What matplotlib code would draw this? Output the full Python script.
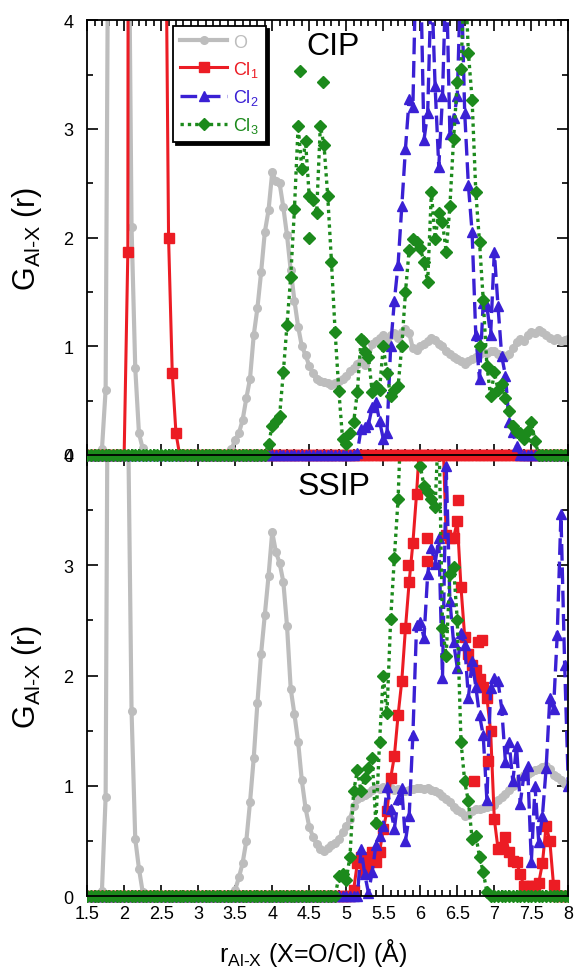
import numpy as np
import matplotlib
matplotlib.use('Agg')
import matplotlib.pyplot as plt
from matplotlib.patches import Rectangle
from matplotlib.ticker import MultipleLocator, FormatStrFormatter

plt.rcParams['font.family'] = ['Liberation Sans', 'DejaVu Sans']
plt.rcParams['mathtext.fontset'] = 'custom'
plt.rcParams['mathtext.rm'] = 'Liberation Sans'
plt.rcParams['mathtext.it'] = 'Liberation Sans:italic'

# r grid (A), 0.05 steps from 1.5 to 8.0
r = np.round(np.arange(1.5, 8.001, 0.05), 2)

# ---------------- CIP ----------------
cip_O = [
    0, 0, 0, 0, 0.05, 0.6, 7, 15, 20, 18,                       # 1.5
    12, 6, 2.1, 0.8, 0.2, 0.06, 0, 0, 0, 0,                     # 2.0
    0, 0, 0, 0, 0, 0, 0, 0, 0, 0,                               # 2.5
    0, 0, 0, 0, 0, 0, 0, 0, 0, 0.05,                            # 3.0
    0.14, 0.2, 0.32, 0.52, 0.7, 1.1, 1.35, 1.68, 2.05, 2.25,    # 3.5
    2.6, 2.52, 2.5, 2.28, 2.02, 1.7, 1.42, 1.18, 1.0, 0.92,     # 4.0
    0.82, 0.75, 0.7, 0.68, 0.67, 0.66, 0.64, 0.66, 0.68, 0.7,   # 4.5
    0.73, 0.77, 0.8, 0.84, 0.86, 0.83, 0.9, 1.02, 1.05, 1.08,   # 5.0
    1.1, 1.06, 1.1, 1.12, 1.08, 1.13, 1.16, 1.12, 0.98, 0.97,   # 5.5
    1.0, 1.02, 1.05, 1.08, 1.06, 1.02, 1.0, 0.96, 0.93, 0.9,    # 6.0
    0.88, 0.86, 0.84, 0.86, 0.88, 0.9, 0.93, 0.95, 0.94, 0.96,  # 6.5
    0.96, 0.93, 0.92, 0.9, 0.93, 0.98, 1.04, 1.07, 1.05, 1.1,   # 7.0
    1.13, 1.12, 1.15, 1.13, 1.1, 1.08, 1.06, 1.08, 1.05, 1.06,  # 7.5
    1.07]
cip_Cl1 = [
    0, 0, 0, 0, 0, 0, 0, 0, 0, 0,                               # 1.5
    0, 1.87, 40, 60, 70, 70, 65, 55, 45, 30,                    # 2.0
    20, 6, 2.0, 0.75, 0.2, 0, 0, 0, 0, 0,                       # 2.5
    0, 0, 0, 0, 0, 0, 0, 0, 0, 0,                               # 3.0
    0, 0, 0, 0, 0, 0, 0, 0, 0, 0,                               # 3.5
    0, 0, 0, 0, 0, 0, 0, 0, 0, 0,                               # 4.0
    0, 0, 0, 0, 0, 0, 0, 0, 0, 0,                               # 4.5
    0, 0, 0, 0, 0, 0, 0, 0, 0, 0,                               # 5.0
    0, 0, 0, 0, 0, 0, 0, 0, 0, 0,                               # 5.5
    0, 0, 0, 0, 0, 0, 0, 0, 0, 0,                               # 6.0
    0, 0, 0, 0, 0, 0, 0, 0, 0, 0,                               # 6.5
    0, 0, 0, 0, 0, 0, 0, 0, 0, 0,                               # 7.0
    0, 0, 0, 0, 0, 0, 0, 0, 0, 0,                               # 7.5
    0]
cip_Cl2 = [
    0, 0, 0, 0, 0, 0, 0, 0, 0, 0,                               # 1.5
    0, 0, 0, 0, 0, 0, 0, 0, 0, 0,                               # 2.0
    0, 0, 0, 0, 0, 0, 0, 0, 0, 0,                               # 2.5
    0, 0, 0, 0, 0, 0, 0, 0, 0, 0,                               # 3.0
    0, 0, 0, 0, 0, 0, 0, 0, 0, 0,                               # 3.5
    0, 0, 0, 0, 0, 0, 0, 0, 0, 0,                               # 4.0
    0, 0, 0, 0, 0, 0, 0, 0, 0, 0,                               # 4.5
    0, 0, 0, 0.02, 0.24, 0.26, 0.28, 0.44, 0.49, 0.31,          # 5.0
    0.15, 0.2, 1.0, 1.42, 1.75, 2.29, 2.82, 3.28, 3.2, 4.8,     # 5.5
    4.6, 2.9, 3.15, 4.4, 3.4, 2.65, 3.3, 4.5, 2.95, 3.1,        # 6.0
    3.3, 4.5, 3.15, 2.48, 2.05, 1.1, 0.7, 1.4, 1.37, 1.1,       # 6.5
    1.87, 1.37, 0.91, 0.73, 0.3, 0.21, 0.08, 0, 0, 0,           # 7.0
    0, 0, 0, 0, 0, 0, 0, 0, 0, 0,                               # 7.5
    0]
cip_Cl3 = [
    0, 0, 0, 0, 0, 0, 0, 0, 0, 0,                               # 1.5
    0, 0, 0, 0, 0, 0, 0, 0, 0, 0,                               # 2.0
    0, 0, 0, 0, 0, 0, 0, 0, 0, 0,                               # 2.5
    0, 0, 0, 0, 0, 0, 0, 0, 0, 0,                               # 3.0
    0, 0, 0, 0, 0, 0, 0, 0, 0, 0.1,                             # 3.5
    0.27, 0.31, 0.36, 0.76, 1.2, 1.64, 2.26, 3.03, 2.63, 2.89,  # 4.0
    2.38, 2.35, 2.23, 3.03, 2.85, 2.38, 1.78, 1.13, 0.59, 0.15, # 4.5
    0.1, 0.2, 0.3, 0.58, 1.07, 0.95, 0.9, 0.58, 0.63, 0.6,      # 5.0
    1.0, 0.75, 0.54, 0.6, 0.63, 1.0, 1.5, 1.89, 1.99, 1.96,     # 5.5
    1.9, 1.78, 1.59, 2.42, 1.99, 2.23, 2.14, 1.87, 2.29, 2.91,  # 6.0
    3.43, 3.55, 4.5, 3.7, 3.27, 2.42, 1.96, 1.43, 0.82, 0.54,   # 6.5
    0.76, 0.6, 0.65, 0.52, 0.4, 0.27, 0.21, 0.2, 0.15, 0.22,    # 7.0
    0.3, 0.13, 0, 0, 0, 0, 0, 0, 0, 0,                          # 7.5
    0]
# loose Cl3 points off the dotted line
cip_Cl3_x = [4.38, 4.69, 4.5, 6.81, 5.23]
cip_Cl3_y = [3.53, 3.43, 2.0, 1.0, 1.05]

# ---------------- SSIP ----------------
ssip_O = [
    0, 0, 0, 0, 0.05, 0.9, 8, 15, 18, 15,                       # 1.5
    10, 4.5, 1.68, 0.52, 0.25, 0.04, 0, 0, 0, 0,                # 2.0
    0, 0, 0, 0, 0, 0, 0, 0, 0, 0,                               # 2.5
    0, 0, 0, 0, 0, 0, 0, 0, 0, 0.02,                            # 3.0
    0.06, 0.17, 0.3, 0.5, 0.85, 1.25, 1.75, 2.2, 2.55, 2.9,     # 3.5
    3.3, 3.12, 3.02, 2.85, 2.45, 1.88, 1.65, 1.4, 1.05, 0.8,    # 4.0
    0.63, 0.54, 0.47, 0.43, 0.41, 0.44, 0.46, 0.48, 0.52, 0.58, # 4.5
    0.64, 0.7, 0.82, 0.88, 0.9, 0.92, 0.94, 0.96, 0.98, 0.97,   # 5.0
    0.99, 0.97, 0.98, 0.96, 0.97, 0.95, 0.95, 0.96, 0.97, 0.98, # 5.5
    0.98, 0.97, 0.98, 0.96, 0.95, 0.94, 0.91, 0.88, 0.85, 0.81, # 6.0
    0.78, 0.76, 0.73, 0.74, 0.77, 0.79, 0.79, 0.8, 0.81, 0.82,  # 6.5
    0.83, 0.87, 0.9, 0.93, 0.96, 1.0, 1.04, 1.07, 1.1, 1.11,    # 7.0
    1.13, 1.14, 1.15, 1.17, 1.18, 1.15, 1.1, 1.08, 1.05, 1.02,  # 7.5
    1.0]
ssip_Cl1 = [
    0, 0, 0, 0, 0, 0, 0, 0, 0, 0,                               # 1.5
    0, 0, 0, 0, 0, 0, 0, 0, 0, 0,                               # 2.0
    0, 0, 0, 0, 0, 0, 0, 0, 0, 0,                               # 2.5
    0, 0, 0, 0, 0, 0, 0, 0, 0, 0,                               # 3.0
    0, 0, 0, 0, 0, 0, 0, 0, 0, 0,                               # 3.5
    0, 0, 0, 0, 0, 0, 0, 0, 0, 0,                               # 4.0
    0, 0, 0, 0, 0, 0, 0, 0, 0, 0,                               # 4.5
    0, 0, 0.06, 0.3, 0.36, 0.22, 0.31, 0.4, 0.31, 0.4,          # 5.0
    0.61, 0.77, 1.07, 1.27, 1.64, 1.95, 2.43, 2.85, 3.2, 3.65,  # 5.5
    4.2, 4.5, 4.4, 4.6, 4.5, 4.5, 4.3, 3.27, 3.25, 3.25,        # 6.0
    3.4, 2.8, 2.35, 2.2, 2.1, 2.05, 1.97, 1.9, 1.8, 1.5,        # 6.5
    0.7, 0.43, 0.45, 0.54, 0.4, 0.32, 0.31, 0.2, 0.09, 0.09,    # 7.0
    0.09, 0.09, 0.12, 0.3, 0.64, 0.5, 0.1, 0, 0, 0,             # 7.5
    0]
# loose Cl1 points off the solid line
ssip_Cl1_x = [5.84, 6.09, 6.09, 6.51, 6.78, 6.83, 6.72, 6.91]
ssip_Cl1_y = [3.0, 3.25, 3.04, 3.59, 2.3, 2.32, 1.04, 1.23]
ssip_Cl2 = [
    0, 0, 0, 0, 0, 0, 0, 0, 0, 0,                               # 1.5
    0, 0, 0, 0, 0, 0, 0, 0, 0, 0,                               # 2.0
    0, 0, 0, 0, 0, 0, 0, 0, 0, 0,                               # 2.5
    0, 0, 0, 0, 0, 0, 0, 0, 0, 0,                               # 3.0
    0, 0, 0, 0, 0, 0, 0, 0, 0, 0,                               # 3.5
    0, 0, 0, 0, 0, 0, 0, 0, 0, 0,                               # 4.0
    0, 0, 0, 0, 0, 0, 0, 0, 0, 0,                               # 4.5
    0, 0, 0, 0, 0.43, 0.2, 0.03, 0.22, 0.46, 0.55,              # 5.0
    0.64, 0.99, 0.79, 0.61, 0.88, 0.98, 0.5, 0.73, 1.46, 2.46,  # 5.5
    2.49, 2.34, 2.92, 3.16, 3.01, 3.25, 1.98, 3.9, 2.68, 2.3,   # 6.0
    2.07, 2.39, 2.28, 1.8, 2.13, 1.9, 1.64, 1.46, 0.87, 1.89,   # 6.5
    1.98, 1.95, 1.7, 1.22, 1.4, 1.04, 1.36, 0.84, 1.1, 1.18,    # 7.0
    0.31, 1.0, 0.49, 0.73, 1.16, 1.8, 1.7, 2.37, 3.46, 2.1,     # 7.5
    1.0]
ssip_Cl3 = [
    0, 0, 0, 0, 0, 0, 0, 0, 0, 0,                               # 1.5
    0, 0, 0, 0, 0, 0, 0, 0, 0, 0,                               # 2.0
    0, 0, 0, 0, 0, 0, 0, 0, 0, 0,                               # 2.5
    0, 0, 0, 0, 0, 0, 0, 0, 0, 0,                               # 3.0
    0, 0, 0, 0, 0, 0, 0, 0, 0, 0,                               # 3.5
    0, 0, 0, 0, 0, 0, 0, 0, 0, 0,                               # 4.0
    0, 0, 0, 0, 0, 0, 0, 0, 0.18, 0.2,                          # 4.5
    0.15, 0.36, 0.95, 1.14, 0.95, 1.07, 1.16, 1.25, 0.66, 1.4,  # 5.0
    2.0, 1.66, 2.51, 3.07, 3.6, 4.5, 5.0, 5.0, 4.8, 4.3,        # 5.5
    3.9, 3.72, 3.66, 3.6, 3.53, 4.3, 2.43, 2.18, 2.92, 2.98,    # 6.0
    2.5, 1.4, 1.04, 0.86, 0.52, 0.55, 0.36, 0.22, 0.04, 0,      # 6.5
    0, 0, 0, 0, 0, 0, 0, 0, 0, 0,                               # 7.0
    0, 0, 0, 0, 0, 0, 0, 0, 0, 0,                               # 7.5
    0]

labels = ['O', 'Cl$_1$', 'Cl$_2$', 'Cl$_3$']
colors = ['#bdbdbd', '#ec1c24', '#3a20d4', '#1c8a1c']
markers = ['o', 's', '^', 'D']
msizes = [5.5, 7, 7.5, 6]
lstyles = ['-', '-', (0, (5, 2)), (0, (1, 1.2))]
lwidths = [3, 2.2, 2.4, 2.4]


def draw_panel(ax, ys, extra=None):
    # let the zero-baseline markers spill a little below the axis
    clip = Rectangle((0, -0.025), 1, 1.025, transform=ax.transAxes)
    lines = []
    for y, lab, c, m, ms, ls, lw in zip(ys, labels, colors, markers, msizes, lstyles, lwidths):
        ln, = ax.plot(r, y, color=c, marker=m, ms=ms, ls=ls, lw=lw, mec=c, label=lab)
        ln.set_clip_path(clip)
        lines.append(ln)
    if extra:
        for i, (ex, ey) in extra.items():
            ax.plot(ex, ey, ls='none', marker=markers[i], ms=msizes[i], color=colors[i])
    ax.set_xlim(1.5, 8)
    ax.set_ylim(0, 4)
    ax.xaxis.set_major_locator(MultipleLocator(0.5))
    ax.xaxis.set_minor_locator(MultipleLocator(0.1))
    ax.xaxis.set_major_formatter(FormatStrFormatter('%g'))
    ax.yaxis.set_major_locator(MultipleLocator(1))
    ax.yaxis.set_minor_locator(MultipleLocator(0.5))
    ax.tick_params(which='both', direction='in', top=True, right=True, width=1.2, labelsize=13)
    ax.tick_params(which='major', length=8)
    ax.tick_params(axis='x', which='major', pad=6)
    ax.tick_params(axis='y', which='major', pad=10)
    ax.tick_params(which='minor', length=4)
    for s in ax.spines.values():
        s.set_linewidth(1.3)
    ax.set_ylabel(r'G$_{\mathrm{Al\text{-}X}}$ (r)', fontsize=22)
    ax.yaxis.set_label_coords(-0.09, 0.5)
    return lines


fig = plt.figure(figsize=(5.77, 9.70), dpi=100)
ax1 = fig.add_axes([0.151, 0.530, 0.834, 0.448])
ax2 = fig.add_axes([0.151, 0.075, 0.834, 0.455])
ax1.set_zorder(3)

lines = draw_panel(ax1, [cip_O, cip_Cl1, cip_Cl2, cip_Cl3], extra={3: (cip_Cl3_x, cip_Cl3_y)})
draw_panel(ax2, [ssip_O, ssip_Cl1, ssip_Cl2, ssip_Cl3], extra={1: (ssip_Cl1_x, ssip_Cl1_y)})
ax1.tick_params(labelbottom=False)

ax1.text(4.82, 3.69, 'CIP', fontsize=23, ha='center', va='baseline')
ax2.text(4.84, 3.645, 'SSIP', fontsize=23, ha='center', va='baseline')

leg = ax1.legend(handles=lines, loc='upper left', bbox_to_anchor=(0.179, 0.986),
                 borderaxespad=0, fontsize=13, numpoints=1, handlelength=2.6,
                 labelcolor='linecolor', fancybox=False, edgecolor='black',
                 framealpha=1, shadow={'color': 'black', 'alpha': 1},
                 labelspacing=0.45, borderpad=0.4, handletextpad=0.3)
leg.get_frame().set_linewidth(1.3)
leg.set_zorder(10)

ax2.set_xlabel(r'r$_{\mathrm{Al\text{-}X}}$ (X=O/Cl) (Å)', fontsize=18, labelpad=14)
ax2.xaxis.set_label_coords(0.47, -0.09)

fig.savefig('out.png', dpi=100)
